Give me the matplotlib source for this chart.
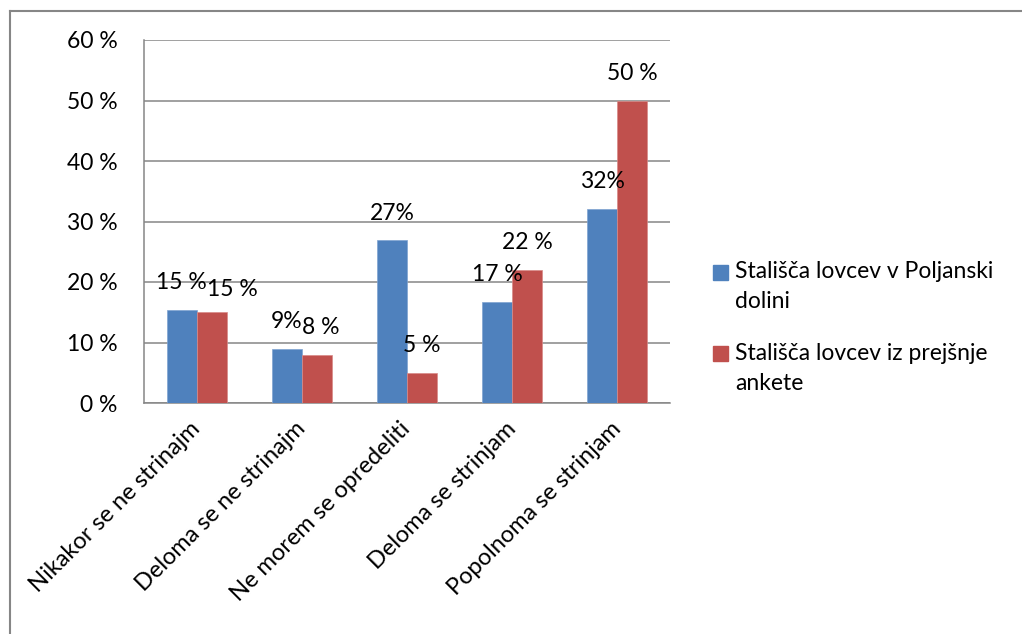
import numpy as np
import matplotlib
matplotlib.use('Agg')
import matplotlib.pyplot as plt
from matplotlib.lines import Line2D
from matplotlib.patches import Rectangle

plt.rcParams['font.family'] = ['Lato', 'DejaVu Sans']

categories = ['Nikakor se ne strinajm', 'Deloma se ne strinajm', 'Ne morem se opredeliti',
              'Deloma se strinjam', 'Popolnoma se strinjam']
poljanska = [15.4, 8.9, 26.9, 16.7, 32.1]
prejsnja = [15.0, 8.0, 5.0, 22.0, 50.0]
labels_poljanska = ['15 %', '9%', '27%', '17 %', '32%']
labels_prejsnja = ['15 %', '8 %', '5 %', '22 %', '50 %']
series_names = ['Stališča lovcev v Poljanski\ndolini', 'Stališča lovcev iz prejšnje\nankete']
yticks = [0, 10, 20, 30, 40, 50, 60]

blue = '#4F81BD'
red = '#C0504D'
grid_col = '#868686'
fs = 16.5
W, H = 1022, 634

fig = plt.figure(figsize=(W / 100, H / 100), dpi=100)
ax = fig.add_axes([144/W, 1-403/H, 526/W, 363/H])

x = np.arange(len(categories))
w = 0.285
b1 = ax.bar(x - w/2, poljanska, w, color=blue, edgecolor='#7FA3D1', linewidth=0.5, zorder=3)
b2 = ax.bar(x + w/2, prejsnja, w, color=red, edgecolor='#D98A88', linewidth=0.5, zorder=3)

# Excel nudged a couple of red labels sideways so they do not sit on the blue ones
red_dx = [15, 3, 0, 0, 0]
red_dy = [-3, 0, 0, 0, 0]
for xi, v, t in zip(x - w/2, poljanska, labels_poljanska):
    ax.annotate(t, (xi, v), xytext=(0, 12), textcoords='offset points',
                ha='center', va='bottom', fontsize=fs, zorder=5)
for i, (xi, v, t) in enumerate(zip(x + w/2, prejsnja, labels_prejsnja)):
    ax.annotate(t, (xi, v), xytext=(red_dx[i], 12 + red_dy[i]), textcoords='offset points',
                ha='center', va='bottom', fontsize=fs, zorder=5)

ax.set_xlim(-0.5, len(categories) - 0.5)
ax.set_ylim(0, 60)
ax.set_yticks(yticks)
ax.set_yticklabels([f'{v} %' for v in yticks], fontsize=fs)
ax.set_xticks(x)
ax.set_xticklabels(categories, rotation=45, ha='right', va='center',
                   rotation_mode='anchor', fontsize=fs + 0.5)
ax.tick_params(axis='both', length=0)
ax.tick_params(axis='y', pad=19)
ax.tick_params(axis='x', pad=16)
ax.yaxis.grid(True, color=grid_col, linewidth=1.1, zorder=0)
for s in ['top', 'right']:
    ax.spines[s].set_visible(False)
for s in ['left', 'bottom']:
    ax.spines[s].set_color(grid_col)
    ax.spines[s].set_linewidth(1.1)

# legend drawn by hand: square sits level with the first line of each wrapped name
entry_top = [272, 353]
line_gap = 30
for name, col, y0 in zip(series_names, [blue, red], entry_top):
    fig.add_artist(Rectangle((713/W, 1-(y0+8)/H), 15/W, 15/H,
                             transform=fig.transFigure, color=col))
    for k, line in enumerate(name.split('\n')):
        fig.text(735/W, 1-(y0 + k*line_gap)/H, line, fontsize=fs,
                 ha='left', va='center')

# outer chart border (only top and left visible in the crop)
fig.add_artist(Line2D([10/W, 1], [1-11/H, 1-11/H], transform=fig.transFigure,
                      color=grid_col, linewidth=1.5))
fig.add_artist(Line2D([10/W, 10/W], [0, 1-11/H], transform=fig.transFigure,
                      color=grid_col, linewidth=1.5))

plt.savefig('out.png', dpi=100)
